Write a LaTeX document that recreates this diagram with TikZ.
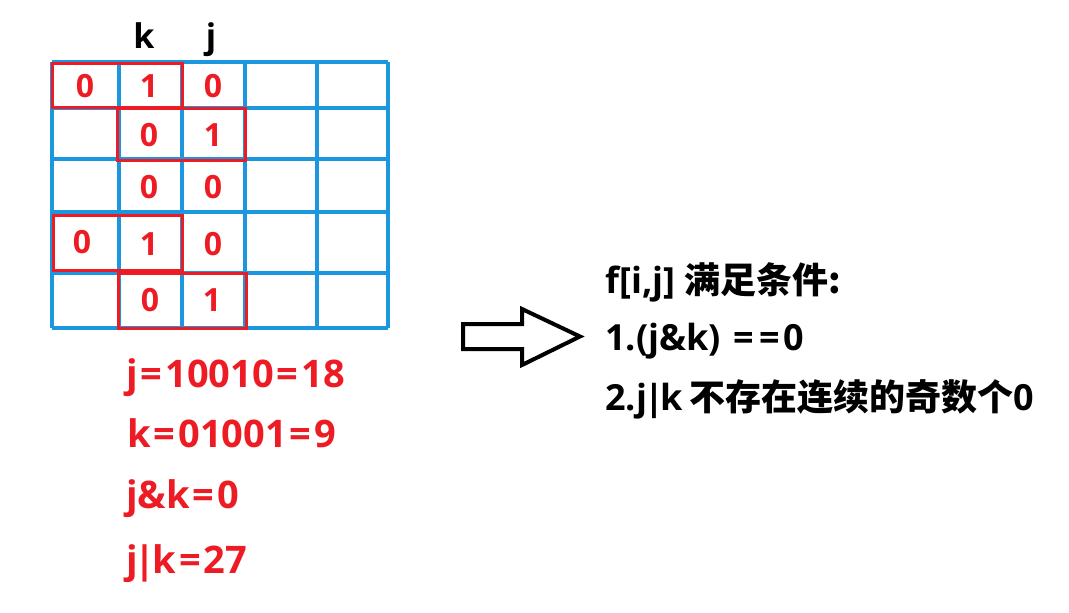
\documentclass[tikz,border=0pt]{standalone}
\usepackage{fontspec}
\setmainfont{Open Sans}
\newfontfamily\cjk{Noto Sans CJK SC}
\definecolor{gridblue}{RGB}{28,150,222}
\definecolor{markred}{RGB}{237,28,36}
\newcommand{\eqs}{\kern3pt=\kern3pt}
\newcommand{\vbar}{\kern-3pt|\kern-3pt}
\begin{document}
\begin{tikzpicture}[x=1pt,y=-1pt,
  gridline/.style={draw=gridblue,line width=3.5pt},
  redbox/.style={draw=markred,line width=3pt},
  cellnum/.style={inner sep=0pt,text=markred,font=\fontsize{32}{32}\selectfont\bfseries},
  collabel/.style={inner sep=0pt,anchor=base,font=\fontsize{34}{34}\selectfont\bfseries},
  redtext/.style={inner sep=0pt,anchor=base west,text=markred,font=\fontsize{38}{38}\selectfont\bfseries},
  blacktext/.style={inner sep=0pt,anchor=base west,font=\fontsize{36}{36}\selectfont\bfseries},
  bigarrow/.style={draw=black,line width=4pt,miter limit=10}]
\useasboundingbox[fill=white] (0,0) rectangle (1069,613);

% grid
\foreach \x in {52,119,182,245,317,388}{\draw[gridline] (\x,62) -- (\x,328);}
\foreach \y in {62,108,159,212,273,328}{\draw[gridline] (52,\y) -- (388,\y);}

% red boxes
\draw[redbox] (52,63) rectangle (182,107);
\draw[redbox] (117,108) rectangle (245,160);
\draw[redbox] (53,215) rectangle (182,270);
\draw[redbox] (118,273) rectangle (246,328);

% column labels
\node[collabel] (lk) at (144,48) {k};
\node[collabel] (lj) at (211,48) {j};

% cell numbers
\node[cellnum] (a00) at (85,86) {0};
\node[cellnum] (a01) at (149,86) {1};
\node[cellnum] (a02) at (213,86) {0};
\node[cellnum] (a11) at (149,135) {0};
\node[cellnum] (a12) at (213,135) {1};
\node[cellnum] (a21) at (149,187) {0};
\node[cellnum] (a22) at (213,187) {0};
\node[cellnum] (a30) at (82,242) {0};
\node[cellnum] (a31) at (149,244) {1};
\node[cellnum] (a32) at (213,244) {0};
\node[cellnum] (a41) at (150,300) {0};
\node[cellnum] (a42) at (212,300) {1};

% red text
\node[redtext] (t1) at (126,387) {j\eqs10010\eqs18};
\node[redtext] (t2) at (127,447) {k\eqs01001\eqs9};
\node[redtext] (t3) at (126,508) {j\&k\eqs0};
\node[redtext] (t4) at (126,573) {j\vbar k\eqs27};

% arrow
\draw[bigarrow] (463,324) -- (522,324) -- (522,309) -- (580,336.5) -- (522,365) -- (522,349) -- (463,349) -- cycle;

% right text
\node[blacktext] (r1) at (605,293) {f[i,j] {\cjk 满足条件:}};
\node[blacktext] (r2) at (605,350) {1.(j\&k) \kern3pt=\kern6pt=\kern3pt0};
\node[blacktext] (r3) at (605,410) {2.j\vbar k\kern-3pt{} {\cjk 不存在连续的奇数个}0};
\end{tikzpicture}
\end{document}
